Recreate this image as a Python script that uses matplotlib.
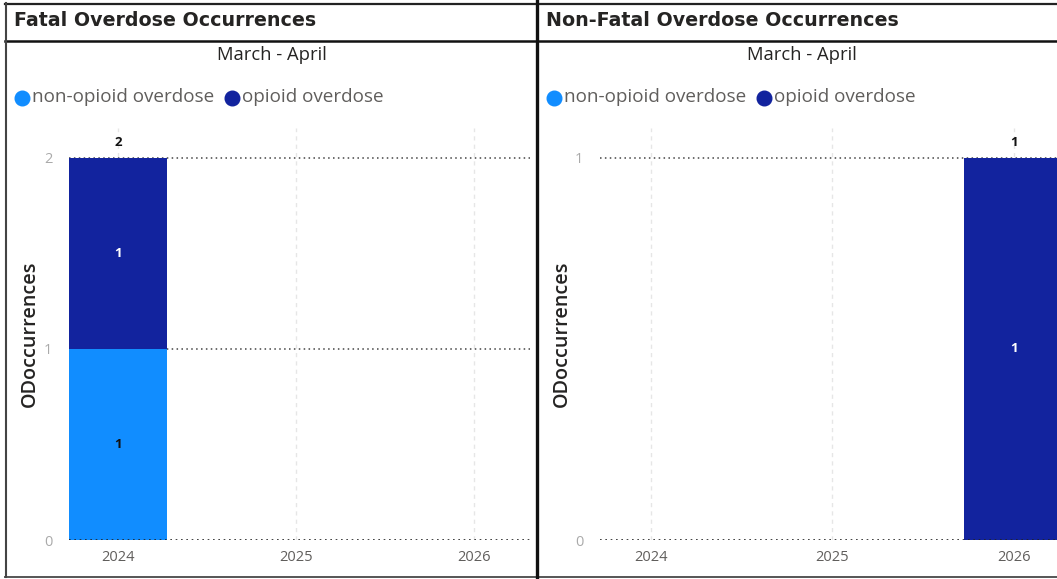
import matplotlib
matplotlib.use("Agg")
import matplotlib.pyplot as plt
from matplotlib.lines import Line2D

# Data
years = ["2024", "2025", "2026"]
fatal_non_opioid = [1, 0, 0]
fatal_opioid = [1, 0, 0]
nonfatal_non_opioid = [0, 0, 0]
nonfatal_opioid = [0, 0, 1]

panel_titles = ["Fatal Overdose Occurrences", "Non-Fatal Overdose Occurrences"]
subtitle = "March - April"
series_names = ["non-opioid overdose", "opioid overdose"]
y_label = "ODoccurrences"

C_LIGHT = "#118DFF"
C_DARK = "#12239E"
TXT = "#605E5C"

W, H = 1057, 579
fig = plt.figure(figsize=(W / 100, H / 100), dpi=100)
plt.rcParams["font.family"] = ["Open Sans", "DejaVu Sans"]


def px_rect(x0, y0, x1, y1):
    return [x0 / W, 1 - y1 / H, (x1 - x0) / W, (y1 - y0) / H]


def fx(x):
    return x / W


def fy(y):
    return 1 - y / H


# Panel frames
def hline(y, x0, x1, lw, color):
    fig.add_artist(Line2D([fx(x0), fx(x1)], [fy(y), fy(y)], lw=lw, color=color))


def vline(x, y0, y1, lw, color):
    fig.add_artist(Line2D([fx(x), fx(x)], [fy(y0), fy(y1)], lw=lw, color=color))


hline(3.5, 5, W, 1.6, "#222222")
hline(41, 5, W, 1.8, "#111111")
hline(577, 5, W, 1.4, "#555555")
vline(6, 3, 577, 1.5, "#444444")
vline(537, 0, 579, 2.4, "#111111")

panels = [
    dict(x0=6, cx=272, non=fatal_non_opioid, op=fatal_opioid,
         ax=(69, 530), xlim=(-0.275, 2.315), ymax=2, yticks=[0, 1, 2]),
    dict(x0=538, cx=802, non=nonfatal_non_opioid, op=nonfatal_opioid,
         ax=(600, W), xlim=(-0.281, 2.237), ymax=1, yticks=[0, 1]),
]

AX_TOP, AX_BOT = 128, 540
Y_TOP_VAL = 158

for i, p in enumerate(panels):
    # Header
    fig.text(fx(p["x0"] + 8), fy(20.5), panel_titles[i], fontsize=13.7,
             fontweight="bold", color="#252423", va="center", ha="left",
             family=["DejaVu Sans"])
    # Subtitle centred over the panel
    fig.text(fx(p["cx"]), fy(55), subtitle, fontsize=13.2, color="#252423",
             ha="center", va="center")
    # Legend
    lx = p["x0"] + 16
    fig.add_artist(Line2D([fx(lx)], [fy(98)], marker="o", markersize=10.5,
                          color=C_LIGHT, lw=0))
    fig.text(fx(lx + 10), fy(97.5), series_names[0], fontsize=13.6, color=TXT,
             ha="left", va="center")
    lx2 = p["x0"] + 226
    fig.add_artist(Line2D([fx(lx2)], [fy(98)], marker="o", markersize=10.5,
                          color=C_DARK, lw=0))
    fig.text(fx(lx2 + 10), fy(97.5), series_names[1], fontsize=13.6, color=TXT,
             ha="left", va="center")

    # Chart area
    ax0, ax1 = p["ax"]
    ax = fig.add_axes(px_rect(ax0, AX_TOP, ax1, AX_BOT))
    px_per_unit = (AX_BOT - Y_TOP_VAL) / p["ymax"]
    ax.set_ylim(0, (AX_BOT - AX_TOP) / px_per_unit)
    ax.set_xlim(*p["xlim"])
    for s in ax.spines.values():
        s.set_visible(False)

    xs = list(range(len(years)))
    for x in xs:
        ax.axvline(x, color="#E6E6E6", lw=1.0, ls=(0, (3, 3)), zorder=0)
    for yv in p["yticks"][1:]:
        ax.axhline(yv, color="#444444", lw=1.1, ls=(0, (1, 2.2)), zorder=0.5)
    ax.axhline(0, color="#222222", lw=1.2, ls=(0, (1, 2.2)), zorder=3)

    bw = 0.55
    ax.bar(xs, p["non"], width=bw, color=C_LIGHT, zorder=2)
    ax.bar(xs, p["op"], width=bw, bottom=p["non"], color=C_DARK, zorder=2,
           clip_on=False)

    for x, n, o in zip(xs, p["non"], p["op"]):
        if n > 0:
            ax.text(x, n / 2, str(n), ha="center", va="center", fontsize=9.5,
                    fontweight="bold", color="#111111", zorder=4)
        if o > 0:
            ax.text(x, n + o / 2, str(o), ha="center", va="center",
                    fontsize=9.5, fontweight="bold", color="white", zorder=4)
        tot = n + o
        if tot > 0:
            ax.text(x, tot + 15 / px_per_unit, str(tot), ha="center",
                    va="center", fontsize=9.5, fontweight="bold",
                    color="#111111", zorder=4, clip_on=False)

    ax.set_xticks(xs)
    ax.set_xticklabels(years, fontsize=10.5, color=TXT)
    ax.set_yticks(p["yticks"])
    ax.set_yticklabels([str(v) for v in p["yticks"]], fontsize=10.5,
                       color="#AAAAAA")
    ax.tick_params(axis="both", length=0)
    ax.tick_params(axis="x", pad=7)
    ax.tick_params(axis="y", pad=12)

    fig.text(fx(p["x0"] + 24), fy((AX_TOP + AX_BOT) / 2), y_label,
             rotation=90, fontsize=14.2, fontweight="semibold",
             color="#252423", ha="center", va="center")

fig.savefig("out.png", dpi=100)
